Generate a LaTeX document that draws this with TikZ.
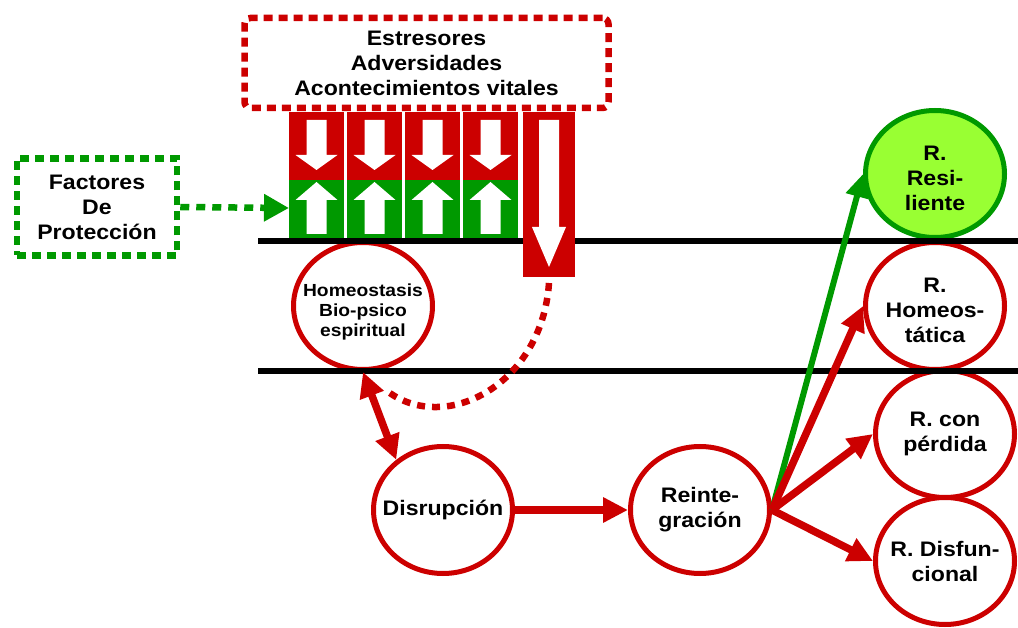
\documentclass[tikz,border=0pt]{standalone}
\usepackage{fontspec}
\setmainfont{Liberation Sans}[FakeStretch=1.1]
\usetikzlibrary{arrows.meta,shapes.geometric}
\definecolor{rojo}{RGB}{204,0,0}
\definecolor{verde}{RGB}{0,153,0}
\definecolor{lima}{RGB}{153,255,51}

\begin{document}
\begin{tikzpicture}[x=1pt, y=-1pt, line join=miter,
  texto/.style={font=\bfseries\fontsize{21}{25}\selectfont, align=center},
  elip/.style={ellipse, draw=rojo, line width=5pt, fill=white,
    minimum width=139pt, minimum height=127pt, inner sep=0pt},
  punteada/.style={line width=6.5pt, dash pattern=on 9pt off 6pt},
  flecha/.style={rojo, line width=7.5pt, -{Triangle[length=25pt,width=24pt]}}]

  %% ════ 虚线框 ════
  \node[texto, draw=rojo, punteada, rounded corners=6pt, minimum width=364pt, minimum height=90pt] (estres) at (426.5,63) {Estresores\\Adversidades\\Acontecimientos vitales};
  \node[texto, draw=verde, punteada, minimum width=160pt, minimum height=97pt] (factores) at (97,207) {Factores\\De\\Protección};

  %% ════ 椭圆（文字用 label，免得把椭圆撑大）════
  \node[elip, label={[texto, font=\bfseries\fontsize{17.5}{20}\selectfont, yshift=-6pt]center:{Homeostasis\\Bio-psico\\espiritual}}] (homeo) at (363,306) {};
  \node[elip, label={[texto]center:Disrupción}] (disrup) at (443,510) {};
  \node[elip, label={[texto]center:{Reinte-\\gración}}] (reint) at (700,510) {};
  \node[elip, draw=verde, fill=lima, label={[texto, yshift=-4pt]center:{R.\\Resi-\\liente}}] (resil) at (935,174) {};
  \node[elip, label={[texto, yshift=-4pt]center:{R.\\Homeos-\\tática}}] (rhomeo) at (935,306) {};
  \node[elip, label={[texto]center:{R. con\\pérdida}}] (rperd) at (945,434) {};
  \node[elip, label={[texto]center:{R. Disfun-\\cional}}] (rdisf) at (945,561) {};

  %% ════ 两条黑横线（压在椭圆上）════
  \draw[line width=6pt] (258,241) -- (1018,241);
  \draw[line width=6pt] (258,371) -- (1018,371);

  %% ════ 红绿柱 + 白箭头 ════
  \foreach \x [evaluate=\x as \c using \x+27.5] in {289,347,405,463} {
    \fill[rojo] (\x,112) rectangle ++(55,68);
    \fill[verde] (\x,180) rectangle ++(55,58);
    \fill[white] (\c-10,120) -- (\c+10,120) -- (\c+10,155) -- (\c+21,155) -- (\c,170) -- (\c-21,155) -- (\c-10,155) -- cycle;
    \fill[white] (\c,182) -- (\c+21,200) -- (\c+10,200) -- (\c+10,234) -- (\c-10,234) -- (\c-10,200) -- (\c-21,200) -- cycle;
  }
  \fill[rojo] (523,112) rectangle (575,277);
  \fill[white] (539,120) -- (559,120) -- (559,227) -- (566,227) -- (549,267) -- (532,227) -- (539,227) -- cycle;

  %% ════ 连线 ════
  \coordinate (colin) at (289,208);
  \coordinate (colbot) at (549,283);
  \coordinate (arcfin) at (387,391);
  \draw[verde, line width=6.5pt, dash pattern=on 9pt off 7pt, -{Triangle[length=25pt,width=26pt]}] (factores.east) -- (colin);
  \draw[rojo, line width=6.5pt, dash pattern=on 8pt off 7pt] (colbot) .. controls (542,385) and (445,435) .. (arcfin);
  \draw[rojo, line width=7.5pt, {Triangle[length=25pt,width=24pt]}-{Triangle[length=25pt,width=24pt]}] (homeo.south) -- (disrup.133);
  \draw[flecha] (disrup.east) -- (reint.west);
  \draw[verde, line width=6pt, -{Triangle[length=23pt,width=22pt]}] (reint.east) -- (resil.west);
  \foreach \n in {rhomeo,rperd,rdisf}
    \draw[flecha] (reint.east) -- (\n.west);

  % 钉死画布
  \pgfresetboundingbox
  \path[use as bounding box] (0,0) rectangle (1018,628);
\end{tikzpicture}
\end{document}
